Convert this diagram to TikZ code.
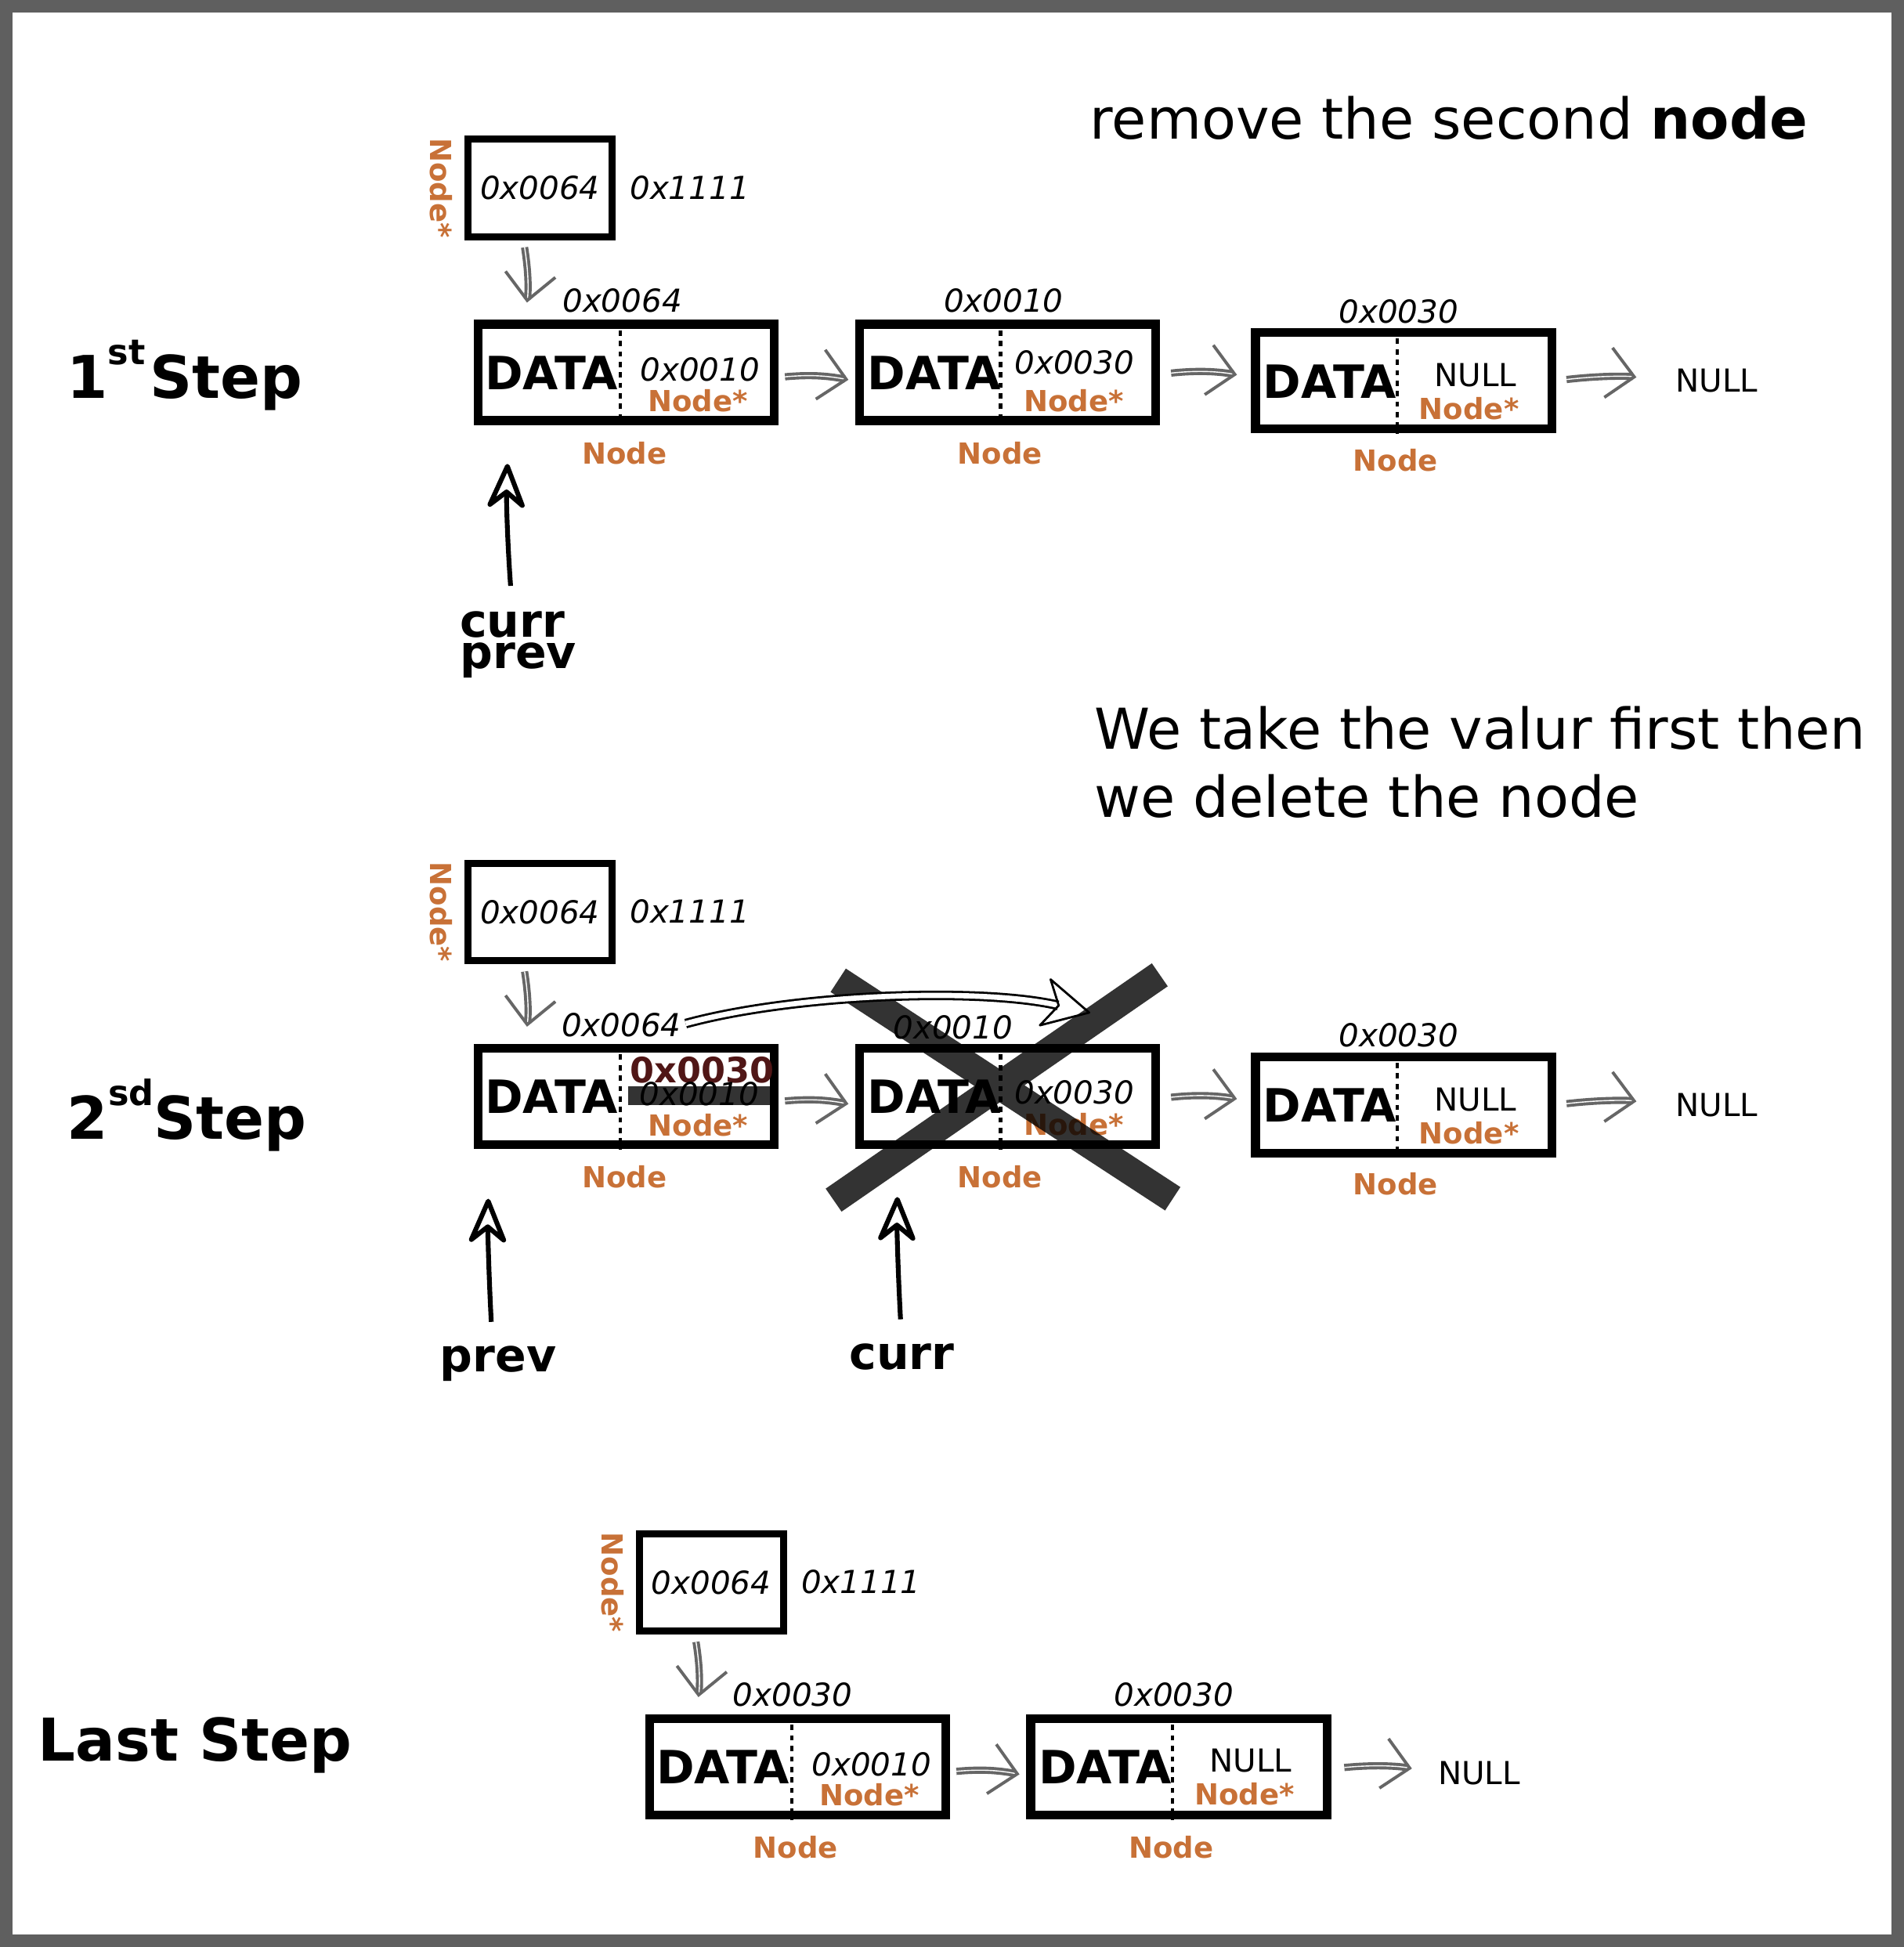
\documentclass[tikz,border=0pt]{standalone}
\usepackage{fontspec}
\setmainfont{DejaVu Sans}
\usetikzlibrary{arrows.meta}

\definecolor{nodeorange}{HTML}{C87137}
\definecolor{newred}{HTML}{501616}
\definecolor{linkgray}{HTML}{666666}
\definecolor{framegray}{HTML}{5F5F5F}

\begin{document}
\begin{tikzpicture}[x = 0.02cm, y = -0.02cm,
        cell/.style = {draw, line width = 4pt, minimum width = 4.77cm, minimum height = 1.55cm, inner sep = 0pt},
        ptrbox/.style = {draw, line width = 3.2pt, minimum width = 2.32cm, minimum height = 1.57cm},
        datatxt/.style = {font = \fontsize{21}{25}\selectfont\bfseries, inner sep = 0pt},
        addr/.style = {font = \fontsize{14.5}{17}\selectfont\itshape, inner sep = 0pt},
        nulltxt/.style = {font = \fontsize{14.5}{17}\selectfont, inner sep = 0pt},
        typ/.style = {font = \fontsize{13.3}{16}\selectfont\bfseries, text = nodeorange, inner sep = 0pt},
        newval/.style = {font = \fontsize{16}{19}\selectfont\bfseries, text = newred, inner sep = 0pt},
        steptxt/.style = {font = \fontsize{27}{32}\selectfont\bfseries, inner sep = 0pt, anchor = base west},
        note/.style = {font = \fontsize{25.8}{31.1}\selectfont, inner sep = 0pt, anchor = base west, align = left},
        var/.style = {font = \fontsize{21}{25}\selectfont\bfseries, inner sep = 0pt, anchor = base},
        divider/.style = {line width = 1.6pt, dash pattern = on 2.4pt off 2.4pt},
        link/.style = {draw = linkgray, double = white, line width = 1.4pt, double distance = 0.5pt, -{Straight Barb[length = 12pt, width = 23pt]}},
        hand/.style = {line width = 2.2pt, -{Stealth[open, round, length = 24pt, width = 20pt, inset = 8pt]}},
        jump/.style = {draw, double = white, line width = 1pt, double distance = 2.4pt, -{Stealth[open, round, length = 23pt, width = 24pt, inset = 7pt]}}]

        \useasboundingbox (0,0) rectangle (1532.8,1567.5);
        \fill [framegray] (0,0) rectangle (1532.8,1567.5);
        \fill [white] (10.1,10.1) rectangle (1522.7,1557.4);

        \node[note] (title) at (877.2,111.8) {remove the second \textbf{node}};
        \node[note] (why) at (881,657.8) {We take the valur first then\\we delete the node};

        \node[steptxt] (step1) at (53.5,320.5) {1\raisebox{15.4pt}{\fontsize{16}{16}\selectfont st}\hspace{2pt}Step};
        \node[steptxt] (step2) at (53.7,917) {2\raisebox{15.4pt}{\fontsize{16}{16}\selectfont sd}Step};
        \node[steptxt] (step3) at (30.4,1417.6) {Last Step};

        % 1st step
        \node[ptrbox, addr] (p1) at (434.6,151.35) {0x0064};
        \node[addr] (v1) at (555.2,151) {0x1111};
        \node[typ, rotate = -90] (t1) at (355.5,151.3) {Node*};

        \node[cell] (n1a) at (504.3,299.8) {};
        \draw[divider] ([xshift = 2.36cm]n1a.north west) -- ([xshift = 2.36cm]n1a.south west);
        \node[datatxt] (d1a) at (444,300) {DATA};
        \node[addr] (a1a) at (563.6,297.7) {0x0010};
        \node[typ] (s1a) at (561.9,322.5) {Node*};
        \node[addr] (h1a) at (501,242) {0x0064};
        \node[typ] (l1a) at (502.6,364.6) {Node};

        \node[cell] (n1b) at (811.3,299.8) {};
        \draw[divider] ([xshift = 2.34cm]n1b.north west) -- ([xshift = 2.34cm]n1b.south west);
        \node[datatxt] (d1b) at (752,300) {DATA};
        \node[addr] (a1b) at (865,291.6) {0x0030};
        \node[typ] (s1b) at (864.4,322.5) {Node*};
        \node[addr] (h1b) at (808,242) {0x0010};
        \node[typ] (l1b) at (805,364.6) {Node};

        \node[cell] (n1c) at (1130,306.5) {};
        \draw[divider] ([xshift = 2.35cm]n1c.north west) -- ([xshift = 2.35cm]n1c.south west);
        \node[datatxt] (d1c) at (1070.5,306.9) {DATA};
        \node[nulltxt] (a1c) at (1187.8,302.1) {NULL};
        \node[typ] (s1c) at (1182.7,328.9) {Node*};
        \node[addr] (h1c) at (1126,250.6) {0x0030};
        \node[typ] (l1c) at (1123.5,370.4) {Node};

        \node[nulltxt] (null1) at (1382,306.4) {NULL};

        \draw[link, shorten < = 3.3pt, shorten > = 8pt] ([xshift = -0.264cm]p1.south) to[bend left = 8] ([xshift = 0.82cm]n1a.north west);
        \draw[link, shorten < = 2.8pt, shorten > = 3.2pt] ([yshift = -0.08cm]n1a.east) to[bend left = 8] ([yshift = -0.14cm]n1b.west);
        \draw[link, shorten < = 5pt, shorten > = 6.6pt] ([yshift = -0.03cm]n1b.east) to[bend left = 8] ([yshift = 0.056cm]n1c.west);
        \draw[link, shorten < = 4.8pt, shorten > = 18pt] (n1c.east) to[bend left = 8] ([yshift = -0.05cm]null1.west);

        \node[var] (curr1) at (412.5,512.8) {curr};
        \node[var] (prev1) at (417.2,538) {prev};
        \draw[hand, shorten < = 11.5pt, shorten > = 17.9pt] (curr1.north) to[bend left = 3] ([xshift = 0.56cm]n1a.south west);

        % 2nd step
        \node[ptrbox, addr] (p2) at (434.6,734.35) {0x0064};
        \node[addr] (v2) at (555.2,734) {0x1111};
        \node[typ, rotate = -90] (t2) at (355.5,734.3) {Node*};

        \node[cell] (n2a) at (504.3,882.8) {};
        \draw[divider] ([xshift = 2.36cm]n2a.north west) -- ([xshift = 2.36cm]n2a.south west);
        \node[datatxt] (d2a) at (444,883) {DATA};
        \fill [black!80] (505.5,874.7) rectangle (620,889.7);
        \node[newval] (r2a) at (565.2,861.7) {0x0030};
        \node[addr] (a2a) at (563,880.7) {0x0010};
        \node[typ] (s2a) at (562,905.9) {Node*};
        \node[addr] (h2a) at (500.2,825) {0x0064};
        \node[typ] (l2a) at (502.6,947.6) {Node};

        \node[cell] (n2b) at (811.3,882.8) {};
        \draw[divider] ([xshift = 2.34cm]n2b.north west) -- ([xshift = 2.34cm]n2b.south west);
        \node[datatxt] (d2b) at (752,883) {DATA};
        \node[addr] (a2b) at (864.8,879.6) {0x0030};
        \node[typ] (s2b) at (864.4,905.5) {Node*};
        \node[addr] (h2b) at (767.2,826.8) {0x0010};
        \node[typ] (l2b) at (805,947.6) {Node};

        \node[cell] (n2c) at (1130,889.5) {};
        \draw[divider] ([xshift = 2.35cm]n2c.north west) -- ([xshift = 2.35cm]n2c.south west);
        \node[datatxt] (d2c) at (1070.5,889.9) {DATA};
        \node[nulltxt] (a2c) at (1187.8,885.1) {NULL};
        \node[typ] (s2c) at (1182.7,911.9) {Node*};
        \node[addr] (h2c) at (1126,833.6) {0x0030};
        \node[typ] (l2c) at (1123.5,953.4) {Node};

        \node[nulltxt] (null2) at (1382,889.4) {NULL};

        \draw[link, shorten < = 3.3pt, shorten > = 8pt] ([xshift = -0.264cm]p2.south) to[bend left = 8] ([xshift = 0.82cm]n2a.north west);
        \draw[link, shorten < = 2.8pt, shorten > = 3.2pt] ([yshift = -0.08cm]n2a.east) to[bend left = 8] ([yshift = -0.14cm]n2b.west);
        \draw[link, shorten < = 5pt, shorten > = 6.6pt] ([yshift = -0.03cm]n2b.east) to[bend left = 8] ([yshift = 0.056cm]n2c.west);
        \draw[link, shorten < = 4.8pt, shorten > = 18pt] (n2c.east) to[bend left = 8] ([yshift = -0.05cm]null2.west);

        \draw[line width = 0.45cm, draw opacity = 0.8] (674.8,789.2) -- (944.1,965.1) (933.7,784.8) -- (671.1,966.2);

        \coordinate (hop) at (877.7,815.4);
        \draw[jump, shorten < = 2pt] (h2a.east) .. controls (640,800) and (790,795) .. (hop);

        \node[var] (prev2) at (401,1104.5) {prev};
        \node[var] (curr2) at (726,1102.3) {curr};
        \draw[hand, shorten < = 11pt, shorten > = 22.8pt] ([xshift = -0.09cm]prev2.north) to[bend left = 2] ([xshift = 0.244cm]n2a.south west);
        \draw[hand, shorten < = 10.9pt, shorten > = 22pt] (curr2.north) to[bend left = 2] ([xshift = 0.69cm]n2b.south west);

        % last step
        \node[ptrbox, addr] (p3) at (572.6,1274.05) {0x0064};
        \node[addr] (v3) at (693.2,1273.7) {0x1111};
        \node[typ, rotate = -90] (t3) at (493.5,1274) {Node*};

        \node[cell] (n3a) at (642.3,1422.5) {};
        \draw[divider] ([xshift = 2.36cm]n3a.north west) -- ([xshift = 2.36cm]n3a.south west);
        \node[datatxt] (d3a) at (582,1422.7) {DATA};
        \node[addr] (a3a) at (701.6,1420.4) {0x0010};
        \node[typ] (s3a) at (699.9,1445.2) {Node*};
        \node[addr] (h3a) at (638.2,1364.6) {0x0030};
        \node[typ] (l3a) at (640.6,1487.3) {Node};

        \node[cell] (n3b) at (949,1422.5) {};
        \draw[divider] ([xshift = 2.35cm]n3b.north west) -- ([xshift = 2.35cm]n3b.south west);
        \node[datatxt] (d3b) at (889.7,1422.7) {DATA};
        \node[nulltxt] (a3b) at (1006.8,1417.4) {NULL};
        \node[typ] (s3b) at (1001.8,1444.4) {Node*};
        \node[addr] (h3b) at (945,1364.6) {0x0030};
        \node[typ] (l3b) at (942.7,1487.3) {Node};

        \node[nulltxt] (null3) at (1190.8,1427.6) {NULL};

        \draw[link, shorten < = 3.3pt, shorten > = 8pt] ([xshift = -0.264cm]p3.south) to[bend left = 8] ([xshift = 0.82cm]n3a.north west);
        \draw[link, shorten < = 2.8pt, shorten > = 3.2pt] ([yshift = -0.08cm]n3a.east) to[bend left = 8] ([yshift = -0.14cm]n3b.west);
        \draw[link, shorten < = 6pt, shorten > = 12pt] ([yshift = -0.03cm]n3b.east) to[bend left = 8] (null3.west);
    \end{tikzpicture}
\end{document}
